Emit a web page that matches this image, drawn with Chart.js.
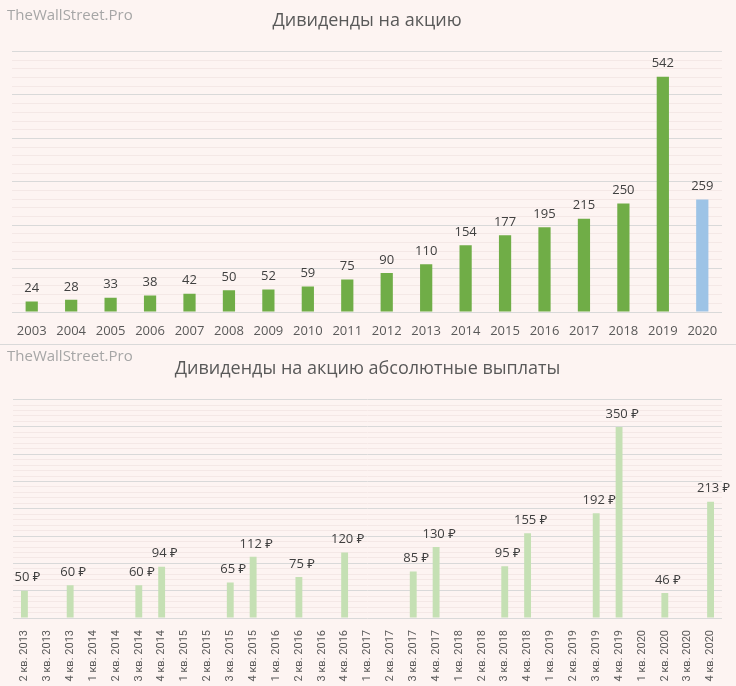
<!DOCTYPE html>
<html>
<head>
<meta charset="utf-8">
<script src="https://cdn.jsdelivr.net/npm/chart.js@4"></script>
<style>
  body { margin: 0; background: #fdf4f2; }
  .wrap { position: relative; width: 736px; height: 686px; background: #fdf4f2; }
  .box { position: absolute; left: 0; width: 736px; }
  .mark { position: absolute; left: 7px; font: 15px "Open Sans", sans-serif; color: #a6a6a6; }
  .sep { position: absolute; left: 0; top: 344px; width: 736px; height: 1px; background: #d9d9d9; }
</style>
</head>
<body>
<div class="wrap">
  <div class="box" style="top:0;height:344px"><canvas id="yearChart" width="736" height="344"></canvas></div>
  <div class="box" style="top:345px;height:341px"><canvas id="quarterChart" width="736" height="341"></canvas></div>
  <div class="sep"></div>
  <div class="mark" style="top:4px">TheWallStreet.Pro</div>
  <div class="mark" style="top:345px">TheWallStreet.Pro</div>
</div>
<script>
// годовые дивиденды на акцию
const years = ['2003','2004','2005','2006','2007','2008','2009','2010','2011','2012','2013','2014','2015','2016','2017','2018','2019','2020'];
const yearValues = [24, 28, 33, 38, 42, 50, 52, 59, 75, 90, 110, 154, 177, 195, 215, 250, 542, 259];

// квартальные выплаты (null = выплаты не было)
const quarters = ['2 кв. 2013','3 кв. 2013','4 кв. 2013',
  '1 кв. 2014','2 кв. 2014','3 кв. 2014','4 кв. 2014',
  '1 кв. 2015','2 кв. 2015','3 кв. 2015','4 кв. 2015',
  '1 кв. 2016','2 кв. 2016','3 кв. 2016','4 кв. 2016',
  '1 кв. 2017','2 кв. 2017','3 кв. 2017','4 кв. 2017',
  '1 кв. 2018','2 кв. 2018','3 кв. 2018','4 кв. 2018',
  '1 кв. 2019','2 кв. 2019','3 кв. 2019','4 кв. 2019',
  '1 кв. 2020','2 кв. 2020','3 кв. 2020','4 кв. 2020'];
const quarterValues = [50, null, 60,
  null, null, 60, 94,
  null, null, 65, 112,
  null, 75, null, 120,
  null, null, 85, 130,
  null, null, 95, 155,
  null, null, 192, 350,
  null, 46, null, 213];

const FONT = '"Open Sans", "Noto Sans", "DejaVu Sans", sans-serif';
const TEXT = '#595959';

// подписи значений над столбцами
const valueLabels = {
  id: 'valueLabels',
  afterDatasetsDraw(chart, args, opts) {
    const ctx = chart.ctx;
    ctx.save();
    ctx.font = '13px ' + FONT;
    ctx.fillStyle = '#404040';
    ctx.textAlign = 'center';
    ctx.textBaseline = 'middle';
    chart.getDatasetMeta(0).data.forEach((bar, i) => {
      const v = chart.data.datasets[0].data[i];
      if (v == null) return;
      ctx.fillText(v + (opts.suffix || ''), bar.x + (opts.dx || 0), bar.y - 13);
    });
    ctx.restore();
  }
};

function gridColor(major) {
  return c => (c.tick && c.tick.value % major === 0) ? '#d9d9d9' : '#f4e8e6';
}

new Chart(document.getElementById('yearChart'), {
  type: 'bar',
  data: {
    labels: years,
    datasets: [{
      data: yearValues,
      backgroundColor: yearValues.map((v, i) => i === yearValues.length - 1 ? '#9dc3e6' : '#70ad47'),
      categoryPercentage: 1,
      barPercentage: 0.31
    }]
  },
  options: {
    responsive: false,
    animation: false,
    layout: { padding: { left: 12, right: 14, top: 0, bottom: 0 } },
    plugins: {
      legend: { display: false },
      tooltip: { enabled: false },
      title: {
        display: true,
        text: 'Дивиденды на акцию',
        color: TEXT,
        font: { family: FONT, size: 18, weight: 'normal' },
        padding: { top: 10, bottom: 20 }
      },
      valueLabels: {}
    },
    scales: {
      x: {
        grid: { display: false },
        border: { display: false },
        ticks: { color: TEXT, font: { family: FONT, size: 13 }, padding: 3, maxRotation: 0, autoSkip: false },
        afterFit: s => { s.height = 32; }
      },
      y: {
        min: 0, max: 600,
        border: { display: false },
        grid: { color: gridColor(100), drawTicks: false },
        ticks: { display: false, stepSize: 20 }
      }
    }
  },
  plugins: [valueLabels]
});

new Chart(document.getElementById('quarterChart'), {
  type: 'bar',
  data: {
    labels: quarters,
    datasets: [{
      data: quarterValues,
      backgroundColor: '#c5e0b4',
      categoryPercentage: 1,
      barPercentage: 0.3
    }]
  },
  options: {
    responsive: false,
    animation: false,
    layout: { padding: { left: 13, right: 14, top: 0, bottom: 0 } },
    plugins: {
      legend: { display: false },
      tooltip: { enabled: false },
      title: {
        display: true,
        text: 'Дивиденды на акцию абсолютные выплаты',
        color: TEXT,
        font: { family: FONT, size: 18, weight: 'normal' },
        padding: { top: 13, bottom: 20 }
      },
      valueLabels: { suffix: ' ₽', dx: 3 }
    },
    scales: {
      x: {
        grid: { display: false },
        border: { display: false },
        ticks: { color: TEXT, font: { family: 'Roboto, ' + FONT, size: 11 }, padding: 4, minRotation: 90, maxRotation: 90, autoSkip: false },
        afterFit: s => { s.height = 68; }
      },
      y: {
        min: 0, max: 400,
        border: { display: false },
        grid: { color: gridColor(50), drawTicks: false },
        ticks: { display: false, stepSize: 10 }
      }
    }
  },
  plugins: [valueLabels]
});
</script>
</body>
</html>
